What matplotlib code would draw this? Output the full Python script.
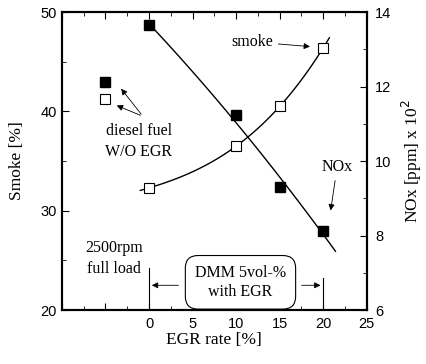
import numpy as np
import matplotlib.pyplot as plt
from matplotlib.ticker import MultipleLocator

# EGR sweep with DMM 5vol-% blend
egr = [0, 10, 15, 20]
smoke = [32.3, 36.5, 40.5, 46.4]
nox = [13.65, 11.23, 9.30, 8.13]

# diesel reference point without EGR (drawn at the left)
diesel_x = -5
diesel_smoke = 41.2
diesel_nox = 12.12

serif = "Liberation Serif"
sans = "Liberation Sans"

fig = plt.figure(figsize=(4.27, 3.64), dpi=100)
ax = fig.add_axes([0.145, 0.148, 0.714, 0.819])
ax2 = ax.twinx()

# fitted trend lines
xs = np.linspace(-1, 20.7, 100)
ps = np.polyfit(egr, smoke, 3)
ax.plot(xs, np.polyval(ps, xs), color="black", lw=1)
xn = np.linspace(0, 21.4, 100)
pn = np.polyfit(egr, nox, 2)
ax2.plot(xn, np.polyval(pn, xn), color="black", lw=1)

ax.plot(egr, smoke, "s", mfc="white", mec="black", ms=7, mew=0.8)
ax.plot(diesel_x, diesel_smoke, "s", mfc="white", mec="black", ms=7, mew=0.8)
ax2.plot(egr, nox, "s", color="black", ms=7)
ax2.plot(diesel_x, diesel_nox, "s", color="black", ms=7)

ax.set_xlim(-10, 25)
ax.set_ylim(20, 50)
ax2.set_ylim(6, 14)

ax.xaxis.set_minor_locator(MultipleLocator(2.5))
ax.yaxis.set_major_locator(MultipleLocator(10))
ax.yaxis.set_minor_locator(MultipleLocator(5))
ax2.yaxis.set_major_locator(MultipleLocator(2))
ax2.yaxis.set_minor_locator(MultipleLocator(1))
ax.set_xticks([-10, -5, 0, 5, 10, 15, 20, 25])
ax.set_xticklabels(["", "", "0", "5", "10", "15", "20", "25"])

for a in (ax, ax2):
    a.tick_params(which="both", direction="in", labelsize=10.5, top=True)
    a.tick_params(which="major", length=5)
    a.tick_params(which="minor", length=3)
    for lab in a.get_xticklabels() + a.get_yticklabels():
        lab.set_fontfamily(sans)
    for s in a.spines.values():
        s.set_linewidth(1.5)
ax.tick_params(axis="y", right=False)
ax.tick_params(axis="x", pad=5)
ax2.tick_params(axis="y", pad=6)

ax.set_xlabel("EGR rate [%]", fontfamily=serif, fontsize=12.5, labelpad=1)
ax.set_ylabel("Smoke [%]", fontfamily=serif, fontsize=12.5, labelpad=11)
ax2.set_ylabel("NOx [ppm] x 10$^2$", fontfamily=serif, fontsize=12.5, labelpad=6)

tk = dict(fontfamily=serif, fontsize=11.5, ha="center", va="center")
arr = dict(arrowstyle="-|>", color="black", lw=0.6, mutation_scale=9)

ax.annotate("smoke", xy=(18.8, 46.5), xytext=(11.8, 47.0), arrowprops=arr, **tk)
ax2.annotate("NOx", xy=(20.8, 8.6), xytext=(21.6, 9.84), arrowprops=arr, **tk)
ax.text(-1.2, 37.0, "diesel fuel\nW/O EGR", linespacing=1.4, **tk)
ax.annotate("", xy=(-3.4, 42.5), xytext=(-0.7, 39.5), arrowprops=arr)
ax.annotate("", xy=(-4.0, 40.7), xytext=(-0.7, 39.5), arrowprops=arr)
ax.text(-4.0, 25.2, "2500rpm\nfull load", linespacing=1.35, **tk)

# DMM 5vol-% EGR range marker
ax.text(10.5, 22.8, "DMM 5vol-%\nwith EGR", linespacing=1.2,
        bbox=dict(boxstyle="round,pad=0.6,rounding_size=0.8", fc="white",
                  ec="black", lw=0.8), **tk)
ax.plot([0, 0], [20, 24.2], color="black", lw=0.8)
ax.plot([20, 20], [20, 23.2], color="black", lw=0.8)
ax.annotate("", xy=(0, 22.5), xytext=(3.7, 22.5), arrowprops=arr)
ax.annotate("", xy=(20, 22.5), xytext=(17.2, 22.5), arrowprops=arr)

fig.savefig("out.png", dpi=100)
